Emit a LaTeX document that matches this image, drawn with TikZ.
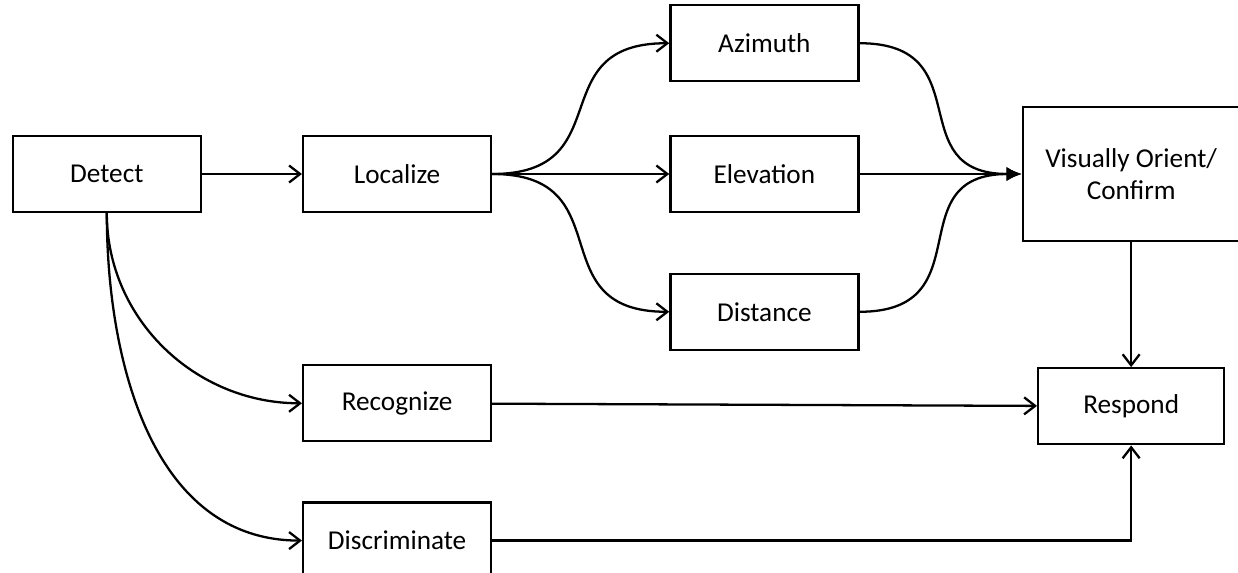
\documentclass[tikz,border=0pt]{standalone}
\usepackage{fontspec}
\setmainfont{Carlito}
\usetikzlibrary{arrows.meta, positioning}

\begin{document}
\begin{tikzpicture}[node distance=2cm, every node/.style={font=\fontsize{15.5}{18.5}\selectfont}, align=center,
  box/.style={draw, rectangle, line width=1.3pt, minimum width=3.76cm, minimum height=1.52cm, inner sep=0pt},
  flow/.style={-{Straight Barb[length=2.2mm, width=3.4mm]}, line width=1.3pt},
  merge/.style={-{Latex[length=3mm, width=2.8mm]}, line width=1.3pt}]
  \useasboundingbox (0,0) rectangle (24.76,-11.46);
  \node (detect) [box] at (2.136,-3.48) {Detect};
  \node (localize) [box, right=2.0cm of detect] {Localize};
  \node (elevation) [box, right=3.54cm of localize] {Elevation};
  \node (azimuth) [box, above=1.05cm of elevation] {Azimuth};
  \node (distance) [box, below=1.19cm of elevation] {Distance};
  \node (visual) [box, minimum width=4.34cm, minimum height=2.68cm, right=3.24cm of elevation] {Visually Orient/\\Confirm};
  \node (recognize) [box, below=3.02cm of localize] {Recognize};
  \node (discrim) [box, below=1.18cm of recognize] {Discriminate};
  \node (respond) [box, minimum width=3.72cm, below=2.5cm of visual] {Respond};

  \draw [flow] (detect) -- (localize);
  \draw [flow] (localize) -- (elevation);
  \draw [flow] (localize.east) to[out=0, in=180, looseness=1.5] (azimuth.west);
  \draw [flow] (localize.east) to[out=0, in=180, looseness=1.5] (distance.west);
  \draw [merge] (elevation) -- (visual);
  \draw [merge] (azimuth.east) to[out=0, in=180, looseness=1.5] (visual.west);
  \draw [merge] (distance.east) to[out=0, in=180, looseness=1.5] (visual.west);
  \draw [flow] (visual) -- (respond);
  \draw [flow] (detect.south) to[out=-90, in=180] (recognize.west);
  \draw [flow] (detect.south) to[out=-90, in=180] (discrim.west);
  \draw [flow] (recognize) -- (respond);
  \draw [flow] (discrim.east) -| (respond.south);
\end{tikzpicture}
\end{document}
